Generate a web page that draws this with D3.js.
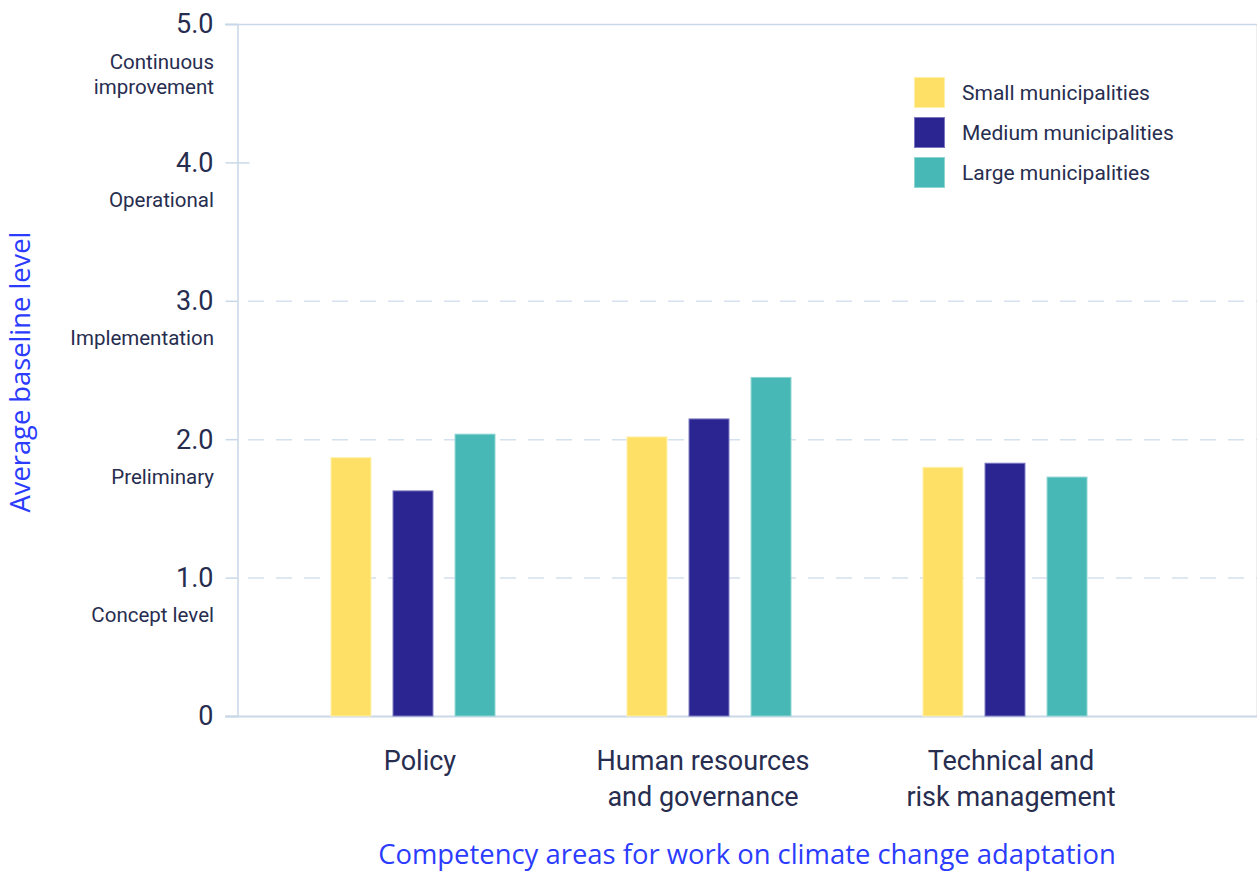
<!DOCTYPE html>
<html>
<head>
<meta charset="utf-8">
<script src="https://cdn.jsdelivr.net/npm/d3@7"></script>
<style>
  html, body { margin: 0; padding: 0; background: #fff; }
  svg { display: block; }
</style>
</head>
<body>
<svg id="chart" width="1257" height="871"></svg>
<script>
const categories = [["Policy"], ["Human resources", "and governance"], ["Technical and", "risk management"]];
const categoryKeys = ["Policy", "Human resources and governance", "Technical and risk management"];
const seriesNames = ["Small municipalities", "Medium municipalities", "Large municipalities"];
const smallValues = [1.87, 2.02, 1.80];
const mediumValues = [1.63, 2.15, 1.83];
const largeValues = [2.04, 2.45, 1.73];
const yTicks = [0, 1, 2, 3, 4, 5];
const yTickLabels = ["0", "1.0", "2.0", "3.0", "4.0", "5.0"];
const levelLabels = [["Concept level"], ["Preliminary"], ["Implementation"], ["Operational"], ["Continuous", "improvement"]];
const colors = ["#FFE066", "#2A2590", "#47B8B5"];
const strokeColors = ["#FFF0A8", "#7A76C0", "#8FD6D3"];

const svg = d3.select("#chart");
const textColor = "#272d4f";
const axisColor = "#c9d8e8";
const blue = "#2b3cff";

const y = d3.scaleLinear().domain([0, 5]).range([716, 24]);
const x = d3.scaleBand().domain(categoryKeys).range([265, 1153]).paddingInner(0).paddingOuter(0);
const xInner = d3.scaleBand().domain(seriesNames).range([-82.5, 82.5]).paddingInner(0.34).paddingOuter(0);

const seriesValues = [smallValues, mediumValues, largeValues];

// right faint border
svg.append("line").attr("x1", 1256.5).attr("x2", 1256.5).attr("y1", 24).attr("y2", 716)
  .attr("stroke", "#eeeeee").attr("stroke-width", 1);

// gridlines (dashed) at 1,2,3
svg.append("g").selectAll("line").data([1, 2, 3]).join("line")
  .attr("x1", 237).attr("x2", 1257)
  .attr("y1", d => y(d) + 0.5).attr("y2", d => y(d) + 0.5)
  .attr("stroke", "#d5e1ee").attr("stroke-width", 1.5)
  .attr("stroke-dasharray", "16,12").attr("stroke-dashoffset", -11);

// top line at 5
svg.append("line").attr("x1", 225).attr("x2", 1257).attr("y1", y(5) + 0.5).attr("y2", y(5) + 0.5)
  .attr("stroke", axisColor).attr("stroke-width", 1.5);

// Y axis
const yAxis = d3.axisLeft(y).tickValues(yTicks).tickFormat((d, i) => yTickLabels[i]).tickSize(12).tickPadding(12);
const yg = svg.append("g").attr("transform", "translate(237.5,0)").call(yAxis);
yg.select(".domain").attr("stroke", axisColor).attr("stroke-width", 1.5);
yg.selectAll(".tick line").attr("stroke", axisColor).attr("stroke-width", 1.5);
yg.selectAll(".tick text").attr("fill", textColor).attr("font-family", "Roboto, sans-serif").attr("font-size", 27).attr("dy", "0.33em").attr("x", -24);
// 4.0 tick stub extends into plot a bit
yg.selectAll(".tick").filter(d => d === 4).append("line").attr("x1", 0).attr("x2", 12).attr("stroke", axisColor).attr("stroke-width", 1.5);

// Level labels
const lv = svg.append("g").selectAll("text").data(levelLabels).join("text")
  .attr("text-anchor", "end").attr("fill", textColor)
  .attr("font-family", "Roboto, sans-serif").attr("font-size", 20.5)
  .attr("transform", (d, i) => {
    const v = i + 1;
    return `translate(214,${y(v) + 44.5})`;
  });
lv.selectAll("tspan").data(d => d).join("tspan").attr("x", 0).attr("dy", (d, i) => i === 0 ? 0 : 25).text(d => d);

// X axis baseline
svg.append("line").attr("x1", 225).attr("x2", 1257).attr("y1", y(0) + 0.5).attr("y2", y(0) + 0.5)
  .attr("stroke", axisColor).attr("stroke-width", 2);

// Bars
const groups = svg.append("g").selectAll("g").data(categoryKeys).join("g")
  .attr("transform", d => `translate(${x(d) + x.bandwidth() / 2},0)`);
groups.selectAll("rect").data((d, ci) => seriesNames.map((s, si) => ({ s, si, v: seriesValues[si][ci] }))).join("rect")
  .attr("x", d => xInner(d.s) + 0.5)
  .attr("width", xInner.bandwidth() - 1)
  .attr("y", d => y(d.v) + 0.5)
  .attr("height", d => y(0) - y(d.v) - 0.5)
  .attr("fill", d => colors[d.si])
  .attr("stroke", d => strokeColors[d.si]).attr("stroke-width", 1);

// Category labels
const cl = svg.append("g").selectAll("text").data(categoryKeys).join("text")
  .attr("text-anchor", "middle").attr("fill", textColor)
  .attr("font-family", "Roboto, sans-serif").attr("font-size", 27)
  .attr("transform", (d, i) => `translate(${x(d) + x.bandwidth() / 2 + [7, -6, 6][i]},770)`);
cl.selectAll("tspan").data((d, i) => categories[i]).join("tspan").attr("x", 0).attr("dy", (d, i) => i === 0 ? 0 : 36).text(d => d);

// Legend
const lg = svg.append("g").attr("transform", "translate(914,77)");
const li = lg.selectAll("g").data(seriesNames).join("g").attr("transform", (d, i) => `translate(0,${i * 40})`);
li.append("rect").attr("x", 0.5).attr("y", 0.5).attr("width", 30).attr("height", 30)
  .attr("fill", (d, i) => colors[i]).attr("stroke", (d, i) => strokeColors[i]).attr("stroke-width", 1);
li.append("text").attr("x", 48).attr("y", 16).attr("dy", "0.35em").attr("fill", textColor)
  .attr("font-family", "Roboto, sans-serif").attr("font-size", 21).text(d => d);

// Axis titles
const yt = svg.append("text").attr("transform", "translate(30,372) rotate(-90)").attr("text-anchor", "middle")
  .attr("fill", blue).attr("font-family", "'Open Sans', sans-serif").attr("font-size", 22).text("Average baseline level");
const xt = svg.append("text").attr("x", 747).attr("y", 864).attr("text-anchor", "middle")
  .attr("fill", blue).attr("font-family", "'Open Sans', sans-serif").attr("font-size", 22).text("Competency areas for work on climate change adaptation");

function fit(sel, target) {
  const w = sel.node().getComputedTextLength();
  const fs = parseFloat(sel.attr("font-size"));
  sel.attr("font-size", fs * target / w);
}
fit(yt, 281);
fit(xt, 738);
</script>
</body>
</html>
